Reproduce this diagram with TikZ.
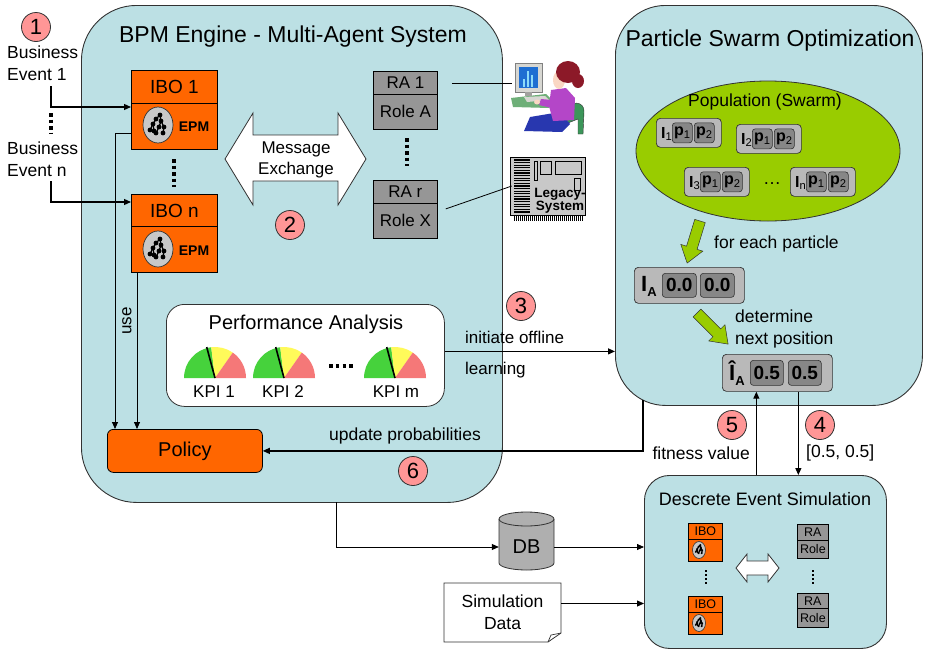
\documentclass[tikz,border=0pt]{standalone}
\usepackage{fontspec}
\setmainfont{Liberation Sans}
\usetikzlibrary{arrows.meta,calc,shapes.geometric}
\definecolor{panel}{RGB}{188,224,228}
\definecolor{ibo}{RGB}{255,102,0}
\definecolor{ragray}{RGB}{150,150,150}
\definecolor{numpink}{RGB}{255,150,150}
\definecolor{swarm}{RGB}{153,204,0}
\definecolor{partout}{RGB}{185,185,185}
\definecolor{partin}{RGB}{135,135,135}
\definecolor{edge}{RGB}{50,50,50}
\definecolor{epmgray}{RGB}{200,200,200}
\definecolor{dbgray}{RGB}{175,175,175}
\definecolor{ggreen}{RGB}{70,210,60}
\definecolor{gyellow}{RGB}{255,250,90}
\definecolor{gred}{RGB}{245,120,120}
\definecolor{chairgreen}{RGB}{60,150,90}
\definecolor{deskgreen}{RGB}{110,175,120}
\definecolor{monframe}{RGB}{215,215,210}
\definecolor{screenblue}{RGB}{30,110,210}
\definecolor{skirtblue}{RGB}{40,55,175}
\definecolor{shirt}{RGB}{180,70,200}
\definecolor{skin}{RGB}{250,215,195}
\definecolor{hair}{RGB}{140,25,40}
\definecolor{legacygray}{RGB}{200,200,200}
\newcommand\fsz[2]{\fontsize{#1}{#2}\selectfont}

% small process-model tree inside the EPM ellipses
\newcommand\epmtree[3]{%
  \begin{scope}[shift={(#1,#2)}, scale=#3]
    \draw[line width=1.3pt] (3,-11) -- (-1,-7) -- (-4,-2) -- (-7,4);
    \draw[line width=1.3pt] (3,-11) -- (4,-5) -- (2,1) -- (-1,7);
    \draw[line width=1.3pt] (4,-5) -- (7,1) -- (6,7);
    \draw[line width=1.3pt] (-4,-2) -- (-3,5);
    \foreach \p in {(3,-11),(-1,-7),(4,-5),(-4,-2),(2,1),(7,1),(-7,4),(-3,5),(-1,7),(6,7)}
      \fill \p circle (2.4);
  \end{scope}}

% one swarm particle: name, x, y, index
\newcommand\particle[4]{%
  \node[partbox, anchor=north west] (#1) at (#2,#3) {};
  \node[lbl, anchor=west, font=\bfseries\fsz{16}{16}] (#1i) at ($(#1.west)+(5,1)$) {I\textsubscript{\mdseries #4}};
  \node[partcell, anchor=west] (#1a) at ($(#1.west)+(16,0)$) {p\textsubscript{\mdseries 1}};
  \node[partcell, anchor=west] (#1b) at ($(#1.west)+(38,0)$) {p\textsubscript{\mdseries 2}};}

% KPI gauge centred at the middle of its base
\newcommand\gauge[2]{%
  \begin{scope}[shift={(#1,#2)}]
    \fill[ggreen] (0,0) -- (180:31) arc[start angle=180, end angle=263, radius=31] -- cycle;
    \fill[gyellow] (0,0) -- (263:31) arc[start angle=263, end angle=305, radius=31] -- cycle;
    \fill[gred] (0,0) -- (305:31) arc[start angle=305, end angle=360, radius=31] -- cycle;
    \draw[line width=1.6pt] (0,0) -- (255:32);
  \end{scope}}

% thick green process arrow: tail x, tail y, direction
\newcommand\greenarrow[3]{%
  \begin{scope}[shift={(#1,#2)}, rotate=#3]
    \filldraw[fill=swarm, draw=edge, line width=0.5pt] (0,-5.5) -- (28,-5.5) -- (28,-11.5) -- (44,0) -- (28,11.5) -- (28,5.5) -- (0,5.5) -- cycle;
  \end{scope}}

\begin{document}
\begin{tikzpicture}[x=1pt, y=-1pt,
  panelbox/.style={draw=edge, fill=panel, line width=0.9pt, rounded corners=#1, inner sep=0pt},
  lbl/.style={inner sep=0pt, text=black},
  num/.style={circle, draw=edge, line width=0.8pt, fill=numpink, minimum size=29pt, inner sep=0pt, font=\fsz{22}{22}},
  ibohead/.style={draw=black, line width=0.8pt, fill=ibo, minimum width=86pt, minimum height=33pt, anchor=north west, inner sep=0pt, font=\fsz{19}{19}},
  ibobody/.style={draw=black, line width=0.8pt, fill=ibo, minimum width=86pt, minimum height=46pt, anchor=north west, inner sep=0pt},
  rahead/.style={draw=black, line width=0.8pt, fill=ragray, minimum width=64pt, minimum height=23pt, anchor=north west, inner sep=0pt, font=\fsz{17}{17}},
  rabody/.style={draw=black, line width=0.8pt, fill=ragray, minimum width=64pt, minimum height=35pt, anchor=north west, inner sep=0pt, font=\fsz{17}{17}},
  smallibo/.style={draw=black, line width=0.7pt, fill=ibo, minimum width=34pt, anchor=north west, inner sep=0pt, font=\fsz{12.5}{12.5}},
  smallra/.style={draw=black, line width=0.7pt, fill=ragray, minimum width=31pt, anchor=north west, inner sep=0pt, font=\fsz{12.5}{12.5}},
  epm/.style={ellipse, draw=edge, fill=epmgray, minimum width=30pt, minimum height=36pt, inner sep=0pt, line width=0.7pt},
  arr/.style={-{Triangle[length=7pt,width=6pt]}, line width=1.2pt},
  thinarr/.style={-{Triangle[length=7pt,width=6pt]}, line width=0.8pt},
  partbox/.style={draw=edge, fill=partout, rounded corners=4pt, minimum width=65pt, minimum height=29pt, inner sep=0pt, line width=0.7pt},
  partcell/.style={draw=edge, fill=partin, rounded corners=3pt, minimum width=20pt, minimum height=20pt, inner sep=0pt, line width=0.6pt, font=\bfseries\fsz{16}{16}},
  valcell/.style={partcell, minimum width=34pt, minimum height=24pt, font=\bfseries\fsz{19}{19}},
  dotcol/.style={line width=3.5pt, dash pattern=on 3.5pt off 3pt},
  smalldots/.style={line width=1.5pt, dash pattern=on 1.5pt off 2.5pt}
]
\useasboundingbox (0,0) rectangle (927,651);

% ---------- panels ----------
\node[panelbox=55pt, minimum width=421pt, minimum height=497pt, anchor=north west] (bpm) at (81,5) {};
\node[panelbox=50pt, minimum width=307pt, minimum height=400pt, anchor=north west] (pso) at (615,5) {};
\node[panelbox=25pt, minimum width=242pt, minimum height=173pt, anchor=north west] (sim) at (644,475) {};

\node[lbl, font=\fsz{23}{23}] (bpmtitle) at (293,37) {BPM Engine - Multi-Agent System};
\node[lbl, font=\fsz{23}{23}] (psotitle) at (770,41) {Particle Swarm Optimization};
\node[lbl, font=\fsz{18}{18}] (simtitle) at (765,499) {Descrete Event Simulation};

% ---------- business events ----------
\node[num] (n1) at (36,27) {1};
\node[lbl, anchor=west, align=left, font=\fsz{17.5}{22}] (be1) at (7,63) {Business\\Event 1};
\node[lbl, anchor=west, align=left, font=\fsz{17.5}{22}] (ben) at (7,159) {Business\\Event n};
\draw[dotcol] (51,113) -- (51,134);

% ---------- IBOs ----------
\node[ibohead] (ibo1h) at (131,70) {IBO 1};
\node[ibobody] (ibo1b) at (131,103) {};
\node[epm] (epm1) at (158,125) {};
\epmtree{157}{126}{1}
\node[lbl, font=\bfseries\fsz{14}{14}] (epm1t) at (194,127) {EPM};

\draw[dotcol] (174,159) -- (174,187);

\node[ibohead] (ibonh) at (131,194) {IBO n};
\node[ibobody] (ibonb) at (131,226) {};
\node[epm] (epmn) at (158,249) {};
\epmtree{157}{250}{1}
\node[lbl, font=\bfseries\fsz{14}{14}] (epmnt) at (194,251) {EPM};

\coordinate (e1) at (51,86);
\coordinate (en) at (51,181);
\draw[arr] (e1) |- ([yshift=-4pt]ibo1b.north west);
\draw[arr] (en) |- ([yshift=-8pt]ibonh.north west);

% ---------- message exchange ----------
\filldraw[fill=white, draw=edge, line width=0.8pt] (225,159) -- (253,113) -- (253,135) -- (338,135) -- (338,113) -- (366,159) -- (338,205) -- (338,181) -- (253,181) -- (253,205) -- cycle;
\node[lbl, align=center, font=\fsz{17}{21}] (msg) at (296,160) {Message\\Exchange};
\node[num] (n2) at (290,225) {2};

% ---------- resource agents ----------
\node[rahead] (ra1h) at (373,71) {RA 1};
\node[rabody] (ra1b) at (373,94) {Role A};
\draw[dotcol] (407,138) -- (407,166);
\node[rahead] (rarh) at (373,180) {RA r};
\node[rabody] (rarb) at (373,203) {Role X};

% ---------- human worker ----------
\node[lbl, minimum width=75pt, minimum height=77pt] (pc) at (547.5,96.5) {};
\filldraw[fill=chairgreen, draw=edge, line width=0.4pt] (566,110) .. controls (570,100) and (585,101) .. (584,112) -- (583,134) -- (578,134) -- (578,119) -- (568,123) -- cycle;
\fill[deskgreen] (511,98) -- (546,94) -- (553,101) -- (549,108) -- (513,107) -- cycle;
\filldraw[fill=monframe, draw=gray, line width=0.4pt] (515,63) rectangle (542,92);
\fill[screenblue] (519,67) rectangle (538,88);
\fill[cyan!45] (523,79) rectangle (525,87);
\fill[cyan!45] (527,71) rectangle (529,87);
\fill[cyan!45] (531,75) rectangle (533,87);
\fill[monframe!75!black] (525,92) rectangle (532,96);
\fill[monframe] (524,97) -- (545,96) -- (549,100) -- (527,102) -- cycle;
\fill[skirtblue] (524,131) -- (530,117) -- (560,112) -- (570,124) -- (562,132) -- cycle;
\fill[shirt] (551,90) -- (566,88) -- (575,98) -- (574,120) -- (553,121) -- (549,106) -- cycle;
\fill[shirt] (552,100) -- (541,99) -- (539,105) -- (556,109) -- cycle;
\fill[skin] (537,102) ellipse (3 and 2.5);
\fill[skin] (559,80) ellipse (6 and 9);
\fill[hair] (568,72) ellipse (12 and 11);
\fill[hair] (578,81) ellipse (6 and 7);

% ---------- legacy system ----------
\node[lbl, minimum width=75pt, minimum height=58pt] (legacy) at (547.5,186) {};
\filldraw[fill=legacygray, draw=black, line width=0.8pt] (510,157) rectangle (585,215);
\foreach \yy in {160,162.6,...,213} \draw[line width=1.1pt] (514,\yy) -- (530,\yy);
\draw[line width=0.6pt] (534,161) rectangle (537,180);
\draw[line width=0.6pt] (540,161) rectangle (551,174);
\draw[line width=0.6pt] (555,161) rectangle (581,174);
\draw[line width=0.6pt] (574,178) rectangle (580,190);
\foreach \xx in {514,516,...,582} \draw[line width=0.7pt] (\xx,215) -- (\xx,221);
\node[lbl, font=\bfseries\fsz{13.5}{13.5}] (legacyt1) at (560,194) {Legacy-};
\node[lbl, font=\bfseries\fsz{13.5}{13.5}] (legacyt2) at (560,207) {System};

\draw[line width=0.8pt] ([xshift=14pt]ra1h.east) -- ([xshift=2pt]pc.west |- ra1h.east);
\draw[line width=0.8pt] ([xshift=8pt,yshift=12pt]rarb.east) -- ([xshift=2pt]legacy.west);

% ---------- performance analysis ----------
\node[draw=edge, fill=white, rounded corners=18pt, minimum width=278pt, minimum height=102pt, anchor=north west, line width=0.8pt] (pa) at (166,304) {};
\node[lbl, font=\fsz{20}{20}] (patitle) at (306,324) {Performance Analysis};
\gauge{215}{378}
\gauge{284}{378}
\gauge{395}{378}
\draw[line width=3.5pt, dash pattern=on 3.5pt off 3.3pt] (329,366) -- (356,366);
\node[lbl, font=\fsz{17}{17}] (kpi1) at (214,392) {KPI 1};
\node[lbl, font=\fsz{17}{17}] (kpi2) at (283,392) {KPI 2};
\node[lbl, font=\fsz{17}{17}] (kpim) at (396,392) {KPI m};

% ---------- policy ----------
\node[draw=black, fill=ibo, rounded corners=6pt, minimum width=155pt, minimum height=43pt, anchor=north west, line width=0.8pt, font=\fsz{20}{20}] (policy) at (107,429) {Policy};
\draw[thinarr] ([yshift=-7pt]ibo1b.west) -| ([xshift=8pt]policy.north west);
\draw[thinarr] ([xshift=6pt]ibonb.south west) -- ([xshift=30pt]policy.north west);
\node[lbl, rotate=90, font=\fsz{17}{17}] (use) at (127,321) {use};

% ---------- offline learning ----------
\node[num] (n3) at (521,306) {3};
\draw[arr] ([yshift=4pt]pa.east) -- ([yshift=4pt]pa.east -| pso.west);
\node[lbl, anchor=west, font=\fsz{17}{17}] (initl) at (465,337) {initiate offline};
\node[lbl, anchor=west, font=\fsz{17}{17}] (learnl) at (465,370) {learning};

% ---------- swarm ----------
\node[ellipse, draw=edge, fill=swarm, minimum width=264pt, minimum height=140pt, line width=0.8pt] (swarm) at (768,151) {};
\node[lbl, font=\fsz{17.5}{17.5}] (swarmt) at (765,102) {Population (Swarm)};
\particle{pa1}{656}{118}{1}
\particle{pa2}{736}{124}{2}
\particle{pa3}{684}{167}{3}
\particle{pan}{790}{167}{n}
\node[lbl, font=\fsz{18}{18}] (pdots) at (772,184) {\dots};

\greenarrow{700}{221}{-107}
\node[lbl, anchor=west, font=\fsz{17.5}{17.5}] (foreach) at (714,244) {for each particle};

\node[partbox, minimum width=110pt, minimum height=36pt, anchor=north west] (ia) at (634,267) {};
\node[lbl, anchor=west, font=\bfseries\fsz{22}{22}] (ial) at ($(ia.west)+(7,1)$) {I\raisebox{-0.45ex}{\fsz{13}{13}A}};
\node[valcell, anchor=west] (iav1) at ($(ia.west)+(28,0)$) {0.0};
\node[valcell, anchor=west] (iav2) at ($(ia.west)+(66,0)$) {0.0};

\greenarrow{697}{313}{-45}
\node[lbl, anchor=west, align=left, font=\fsz{17.5}{22}] (detl) at (735,329) {determine\\next position};

\node[partbox, minimum width=110pt, minimum height=37pt, anchor=north west] (iah) at (722,354) {};
\node[lbl, anchor=west, font=\bfseries\fsz{22}{22}] (iahl) at ($(iah.west)+(7,0)$) {Î\raisebox{-0.45ex}{\fsz{13}{13}A}};
\node[valcell, anchor=west, minimum width=33pt, minimum height=25pt] (iahv1) at ($(iah.west)+(28,0)$) {0.5};
\node[valcell, anchor=west, minimum width=33pt, minimum height=25pt] (iahv2) at ($(iah.west)+(66,0)$) {0.5};

% ---------- simulation feedback ----------
\draw[arr] ([xshift=21pt]iah.south) -- ([xshift=21pt]iah.south |- sim.north);
\draw[arr] ([xshift=-21pt]iah.south |- sim.north) -- ([xshift=-21pt]iah.south);
\node[num] (n4) at (820,425) {4};
\node[num] (n5) at (732,425) {5};
\node[lbl, anchor=east, font=\fsz{17.5}{17.5}] (fitl) at (750,453) {fitness value};
\node[lbl, anchor=west, font=\fsz{17.5}{17.5}] (posl) at (806,453) {[0.5, 0.5]};

\coordinate (psoout) at (643,400);
\draw[arr] (psoout) |- (policy.east);
\node[lbl, font=\fsz{17.5}{17.5}] (updl) at (405,436) {update probabilities};
\node[num] (n6) at (413,471) {6};

% ---------- simulation model ----------
\node[smallibo, minimum height=16pt] (sibo1h) at (688,523) {IBO};
\node[smallibo, minimum height=22pt] (sibo1b) at (688,539) {};
\node[ellipse, draw=edge, fill=epmgray, minimum width=13pt, minimum height=17pt, inner sep=0pt, line width=0.6pt] (sepm1) at (699,550) {};
\epmtree{699}{550}{0.45}
\draw[smalldots] (706,570) -- (706,585);
\node[smallibo, minimum height=16pt] (sibonh) at (688,596) {IBO};
\node[smallibo, minimum height=22pt] (sibonb) at (688,612) {};
\node[ellipse, draw=edge, fill=epmgray, minimum width=13pt, minimum height=17pt, inner sep=0pt, line width=0.6pt] (sepmn) at (699,623) {};
\epmtree{699}{623}{0.45}

\filldraw[fill=white, draw=edge, line width=0.8pt] (736,568) -- (747,554) -- (747,561) -- (768,561) -- (768,554) -- (779,568) -- (768,582) -- (768,575) -- (747,575) -- (747,582) -- cycle;

\node[smallra, minimum height=16pt] (sra1h) at (797,524) {RA};
\node[smallra, minimum height=18pt] (sra1b) at (797,540) {Role};
\draw[smalldots] (813,570) -- (813,585);
\node[smallra, minimum height=15pt] (srarh) at (797,593) {RA};
\node[smallra, minimum height=19pt] (srarb) at (797,608) {Role};

% ---------- data sources ----------
\filldraw[fill=dbgray, draw=edge, line width=0.8pt] (499,519) -- (499,563) arc[start angle=180, end angle=0, x radius=27.5, y radius=7] -- (554,519) arc[start angle=0, end angle=-180, x radius=27.5, y radius=7] -- cycle;
\draw[edge, line width=0.8pt] (499,519) arc[start angle=180, end angle=0, x radius=27.5, y radius=7];
\node[lbl, minimum width=55pt, minimum height=30pt, font=\fsz{20}{20}] (db) at (526.5,547) {DB};

\filldraw[fill=white, draw=edge, line width=0.8pt] (444,583) -- (561,583) -- (561,633) -- (548,642) -- (444,642) -- cycle;
\draw[edge, line width=0.7pt] (548,642) -- (551,635) -- (561,633);
\node[lbl, minimum width=117pt, minimum height=59pt, align=center, font=\fsz{17.5}{22}] (simdata) at (502.5,612.5) {Simulation\\Data};

\coordinate (bpmout) at (336,502);
\draw[thinarr] (bpmout) |- (db.west);
\draw[thinarr] (db.east) -- (db.east -| sim.west);
\draw[thinarr] ([yshift=9pt]simdata.east) -- ([yshift=9pt]simdata.east -| sim.west);

\end{tikzpicture}
\end{document}
